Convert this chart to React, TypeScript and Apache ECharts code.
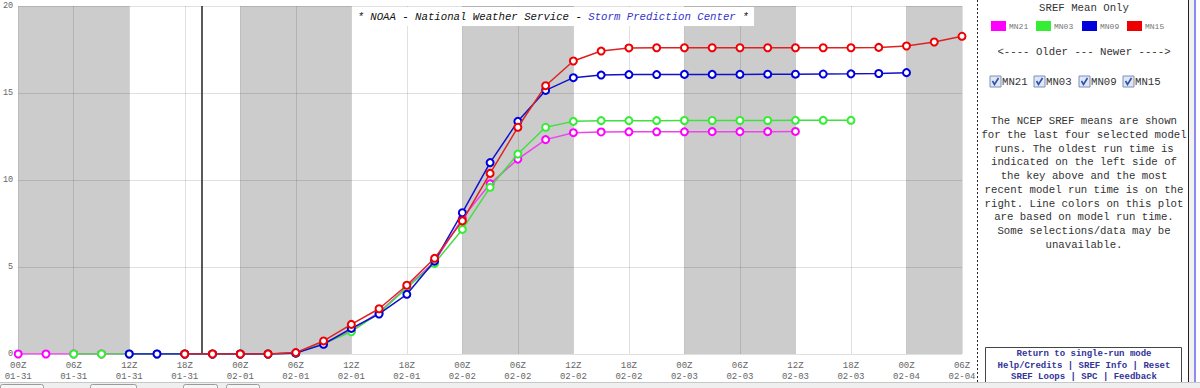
import React, { useEffect, useRef } from "react";
import * as echarts from "echarts";

// x positions are 3-hourly steps from 00Z 01-31 (index 0) to 06Z 02-04 (index 34)
const tickHours = ["00Z","06Z","12Z","18Z","00Z","06Z","12Z","18Z","00Z","06Z","12Z","18Z","00Z","06Z","12Z","18Z","00Z","06Z"];
const tickDates = ["01-31","01-31","01-31","01-31","02-01","02-01","02-01","02-01","02-02","02-02","02-02","02-02","02-03","02-03","02-03","02-03","02-04","02-04"];

const runNames = ["MN21", "MN03", "MN09", "MN15"];
const runColors = ["#ff00ff", "#33ee33", "#0000dd", "#ee0000"];
const lineColors = ["#ee44ee", "#44dd44", "#1111cc", "#dd2222"];
const runStarts = [0, 2, 4, 6];

const mn21 = [0,0,0,0,0,0,0,0,0,0,0.06,0.62,1.35,2.4,3.85,5.3,7.8,9.78,11.2,12.32,12.72,12.76,12.77,12.77,12.77,12.78,12.78,12.78,12.79];
const mn03 = [0,0,0,0,0,0,0,0,0.05,0.6,1.28,2.35,3.8,5.21,7.16,9.58,11.49,13.03,13.37,13.41,13.41,13.41,13.42,13.42,13.42,13.42,13.43,13.43,13.43];
const mn09 = [0,0,0,0,0,0,0.05,0.56,1.47,2.3,3.43,5.34,8.12,11.0,13.37,15.15,15.88,16.03,16.06,16.06,16.07,16.07,16.07,16.08,16.08,16.09,16.1,16.12,16.17];
const mn15 = [0,0,0,0,0.08,0.75,1.7,2.6,3.95,5.5,7.65,10.38,13.03,15.42,16.84,17.41,17.59,17.6,17.6,17.6,17.6,17.6,17.6,17.6,17.6,17.62,17.7,17.93,18.26];
const runValues = [mn21, mn03, mn09, mn15];

const nightBands = [[0, 4], [8, 12], [16, 20], [24, 28], [32, 34]];
const currentTime = 6.6;

const yMin = 0, yMax = 20, yStep = 5;

const infoLines = [
  "The NCEP SREF means are shown",
  "for the last four selected model",
  "runs. The oldest run time is",
  "indicated on the left side of",
  "the key above and the most",
  "recent model run time is on the",
  "right. Line colors on this plot",
  "are based on model run time.",
  "Some selections/data may be",
  "unavailable.",
];
const linkLines = [
  "Return to single-run mode",
  "Help/Credits | SREF Info | Reset",
  "SREF Loops | SPC | Feedback",
];

const MONO = "'Liberation Mono', 'DejaVu Sans Mono', monospace";

export default function App() {
  const ref = useRef<HTMLDivElement>(null);
  useEffect(() => {
    if (!ref.current) return;
    const chart = echarts.init(ref.current, undefined, { renderer: "svg" });

    const series: any[] = [];
    series.push({
      type: "line",
      data: [],
      z: 1,
      silent: true,
      markArea: {
        silent: true,
        itemStyle: { color: "#cccccc" },
        data: nightBands.map((b) => [{ xAxis: b[0] }, { xAxis: b[1] }]),
      },
    });
    series.push({
      type: "line",
      data: [],
      z: 4,
      silent: true,
      markLine: {
        silent: true,
        symbol: "none",
        label: { show: false },
        lineStyle: { color: "#222", width: 1.5, type: "solid" },
        data: [{ xAxis: currentTime }],
      },
    });
    runValues.forEach((vals, k) => {
      series.push({
        type: "line",
        name: runNames[k],
        z: 5 + k,
        data: vals.map((v, i) => [runStarts[k] + i, v]),
        symbol: "circle",
        symbolSize: 7,
        showSymbol: true,
        lineStyle: { color: lineColors[k], width: 1.5 },
        itemStyle: { color: "#ffffff", borderColor: runColors[k], borderWidth: 2 },
      });
    });

    const graphic: any[] = [];
    // title
    graphic.push({
      type: "rect",
      shape: { x: 352, y: 7, width: 402, height: 19 },
      style: { fill: "#ffffff" },
      z: 100,
    });
    graphic.push({
      type: "text",
      x: 553,
      y: 17,
      z: 101,
      style: {
        text: "{a|* NOAA - National Weather Service - }{b|Storm Prediction Center}{a| *}",
        align: "center",
        verticalAlign: "middle",
        rich: {
          a: { fill: "#111", fontFamily: MONO, fontSize: 10.7, fontStyle: "italic" },
          b: { fill: "#3333cc", fontFamily: MONO, fontSize: 10.7, fontStyle: "italic" },
        },
      },
    });
    // right panel
    graphic.push({ type: "rect", shape: { x: 977, y: 0, width: 212, height: 383 }, style: { fill: "#ffffff" }, z: 50 });
    graphic.push({
      type: "line",
      shape: { x1: 977.5, y1: 0, x2: 977.5, y2: 383 },
      style: { stroke: "#222", lineWidth: 1, lineDash: [2, 2] },
      z: 60,
    });
    graphic.push({ type: "rect", shape: { x: 1189, y: 0, width: 5, height: 388 }, style: { fill: "#f2f2f2" }, z: 55 });
    graphic.push({ type: "line", shape: { x1: 1188.5, y1: 0, x2: 1188.5, y2: 385 }, style: { stroke: "#222", lineWidth: 1 }, z: 60 });
    graphic.push({ type: "rect", shape: { x: 1194, y: 0, width: 2, height: 388 }, style: { fill: "#8c8cf0" }, z: 60 });
    graphic.push({
      type: "text", x: 1084, y: 8, z: 60,
      style: { text: "SREF Mean Only", align: "center", verticalAlign: "middle", fill: "#333", fontFamily: MONO, fontSize: 10.7 },
    });
    const legendX = [991, 1036, 1082, 1127];
    runNames.forEach((n, k) => {
      graphic.push({ type: "rect", shape: { x: legendX[k], y: 21, width: 15, height: 10 }, style: { fill: runColors[k] }, z: 60 });
      graphic.push({
        type: "text", x: legendX[k] + 18, y: 26, z: 60,
        style: { text: n, align: "left", verticalAlign: "middle", fill: "#777", fontFamily: MONO, fontSize: 8 },
      });
    });
    graphic.push({
      type: "text", x: 1084, y: 52, z: 60,
      style: { text: "<---- Older --- Newer ---->", align: "center", verticalAlign: "middle", fill: "#333", fontFamily: MONO, fontSize: 10.7 },
    });
    const boxX = [990, 1034, 1079, 1123];
    runNames.forEach((n, k) => {
      const x = boxX[k];
      graphic.push({ type: "rect", shape: { x, y: 76, width: 11, height: 11 }, style: { fill: "#dfe6f6", stroke: "#7d8fb8", lineWidth: 1 }, z: 60 });
      graphic.push({
        type: "polyline", z: 61,
        shape: { points: [[x + 2.5, y5(81)], [x + 4.5, 84.5], [x + 8.5, 78]] },
        style: { stroke: "#2c4fa8", lineWidth: 1.6, fill: "none" },
      });
      graphic.push({
        type: "text", x: x + 12, y: 82, z: 60,
        style: { text: n, align: "left", verticalAlign: "middle", fill: "#333", fontFamily: MONO, fontSize: 10.7 },
      });
    });
    infoLines.forEach((t, i) => {
      graphic.push({
        type: "text", x: 1084, y: 121 + i * 13.75, z: 60,
        style: { text: t, align: "center", verticalAlign: "middle", fill: "#333", fontFamily: MONO, fontSize: 10.7 },
      });
    });
    graphic.push({ type: "rect", shape: { x: 985.5, y: 347.5, width: 196, height: 40 }, style: { fill: "#ffffff", stroke: "#444", lineWidth: 1 }, z: 60 });
    linkLines.forEach((t, i) => {
      graphic.push({
        type: "text", x: 1084, y: 354 + i * 11.5, z: 61,
        style: { text: t, align: "center", verticalAlign: "middle", fill: "#33339a", fontFamily: MONO, fontSize: 9, fontWeight: "bold" },
      });
    });
    // bottom strip
    graphic.push({ type: "rect", shape: { x: 0, y: 382, width: 1200, height: 6 }, style: { fill: "#efefef" }, z: 70 });
    graphic.push({ type: "line", shape: { x1: 0, y1: 382.5, x2: 1200, y2: 382.5 }, style: { stroke: "#c8c8c8", lineWidth: 1 }, z: 71 });
    [[0, 43], [90, 136], [183, 217], [226, 259]].forEach((b) => {
      graphic.push({ type: "rect", shape: { x: b[0] + 0.5, y: 384.5, width: b[1] - b[0], height: 8, r: 2 }, style: { fill: "#f6f6f6", stroke: "#9a9a9a", lineWidth: 1 }, z: 72 });
    });

    function y5(v: number) { return v; }

    chart.setOption({
      animation: false,
      backgroundColor: "#ffffff",
      grid: { left: 18, right: 238, top: 6, bottom: 34, containLabel: false },
      xAxis: {
        type: "value",
        min: 0,
        max: 34,
        interval: 2,
        z: 3,
        axisLine: { show: false },
        axisTick: { show: false },
        splitLine: { show: true, lineStyle: { color: "rgba(0,0,0,0.12)", width: 1 } },
        axisLabel: {
          showMinLabel: true,
          showMaxLabel: true,
          hideOverlap: false,
          margin: 6,
          fontFamily: MONO,
          fontSize: 9,
          lineHeight: 11,
          color: "#666",
          formatter: (v: number) => {
            const i = Math.round(v / 2);
            return tickHours[i] + "\n" + tickDates[i];
          },
        },
      },
      yAxis: {
        type: "value",
        min: yMin,
        max: yMax,
        interval: yStep,
        z: 3,
        axisLine: { show: false },
        axisTick: { show: false },
        splitLine: { show: true, lineStyle: { color: "rgba(0,0,0,0.12)", width: 1 } },
        axisLabel: { margin: 5, fontFamily: MONO, fontSize: 8.5, color: "#666" },
      },
      series,
      graphic,
    });
    return () => chart.dispose();
  }, []);
  return (
    <div
      ref={ref}
      style={{ position: "fixed", left: 0, top: 0, width: 1200, height: 388 }}
    />
  );
}
